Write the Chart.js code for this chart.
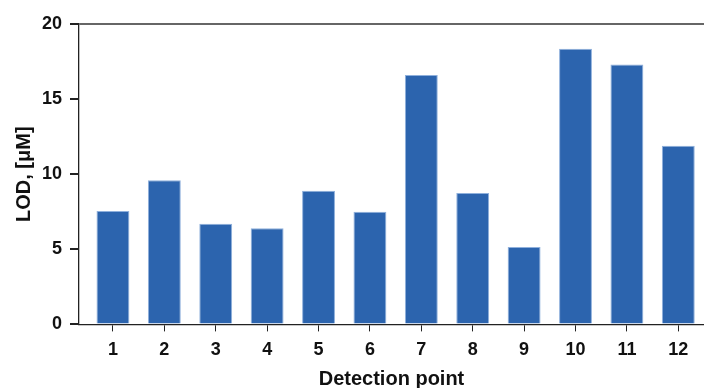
<!DOCTYPE html>
<html>
<head>
<meta charset="utf-8">
<script src="https://cdn.jsdelivr.net/npm/chart.js@4"></script>
<style>
  html, body { margin: 0; padding: 0; background: #fff; overflow: hidden; }
  #wrap { width: 704px; height: 388px; }
</style>
</head>
<body>
<div id="wrap"><canvas id="lodChart" width="704" height="388"></canvas></div>
<script>
// Data
const points = [1, 2, 3, 4, 5, 6, 7, 8, 9, 10, 11, 12];
const lodValues = [7.55, 9.6, 6.7, 6.4, 8.9, 7.5, 16.6, 8.75, 5.15, 18.35, 17.3, 11.9];
const yTicks = [0, 5, 10, 15, 20];

const ctx = document.getElementById("lodChart").getContext("2d");

new Chart(ctx, {
  type: "bar",
  data: {
    datasets: [
      {
        label: "LOD",
        data: points.map((p, i) => ({ x: p, y: lodValues[i] })),
        backgroundColor: "#2c64ae",
        borderColor: "#8fb0dc",
        borderWidth: 1,
        categoryPercentage: 1,
        barPercentage: 0.64,
      },
    ],
  },
  options: {
    responsive: false,
    animation: false,
    layout: { padding: { left: 12, top: 24, right: 0, bottom: -3 } },
    plugins: { legend: { display: false }, tooltip: { enabled: false } },
    scales: {
      x: {
        type: "linear",
        offset: false,
        min: 0.34,
        max: 12.5,
        afterBuildTicks: (scale) => {
          scale.ticks = points.map((v) => ({ value: v }));
        },
        ticks: {
          color: "#111",
          padding: 8,
          font: { family: "Liberation Sans", weight: "bold", size: 18 },
        },
        grid: {
          offset: false,
          drawOnChartArea: false,
          tickLength: 7,
          tickColor: "#222",
        },
        border: { color: "#222", width: 1.3 },
        title: {
          display: true,
          text: "Detection point",
          color: "#111",
          padding: { top: -2, bottom: 0 },
          font: { family: "Liberation Sans", weight: "bold", size: 20 },
        },
      },
      y: {
        min: 0,
        max: 20,
        afterBuildTicks: (scale) => {
          scale.ticks = yTicks.map((v) => ({ value: v }));
        },
        ticks: {
          color: "#111",
          padding: 8,
          font: { family: "Liberation Sans", weight: "bold", size: 18 },
        },
        grid: {
          color: (c) => (c.tick && c.tick.value === 20 ? "#666" : "rgba(0,0,0,0)"),
          lineWidth: 2,
          tickLength: 9,
          tickColor: "#222",
        },
        border: { color: "#222", width: 1.3 },
        title: {
          display: true,
          text: "LOD, [μM]",
          color: "#111",
          padding: { top: 0, bottom: -2 },
          font: { family: "Liberation Sans", weight: "bold", size: 20 },
        },
      },
    },
  },
});
</script>
</body>
</html>
